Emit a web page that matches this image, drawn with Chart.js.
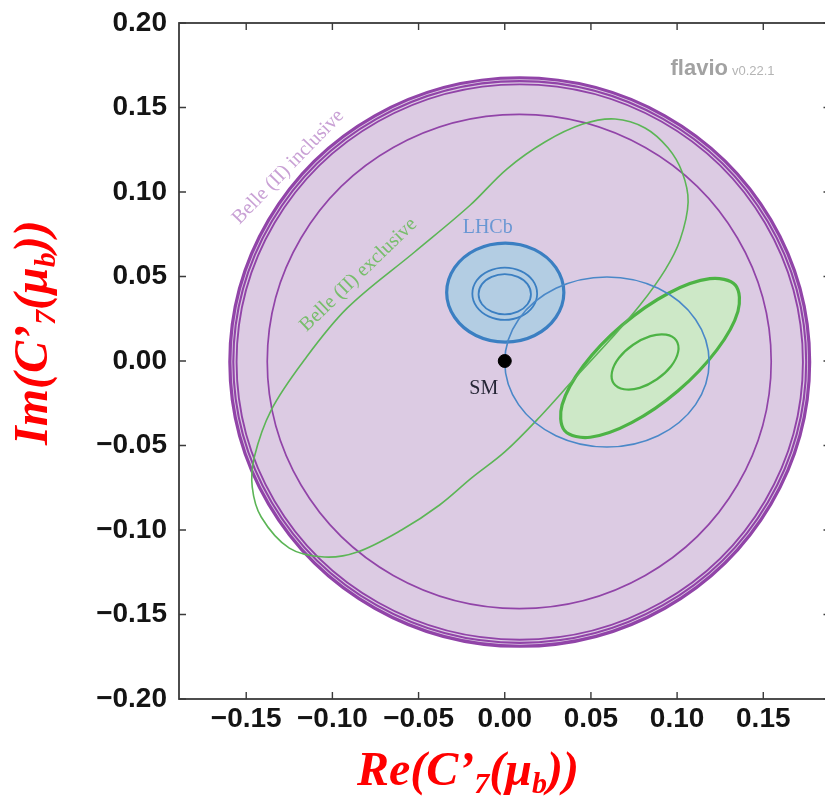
<!DOCTYPE html>
<html>
<head>
<meta charset="utf-8">
<script src="https://cdn.jsdelivr.net/npm/chart.js@4/dist/chart.umd.min.js"></script>
<style>
  html, body { margin: 0; padding: 0; background: #ffffff; overflow: hidden; }
  #wrap { position: absolute; left: 0; top: 0; width: 840px; height: 797px; }
</style>
</head>
<body>
<div id="wrap"><canvas id="c" width="840" height="797"></canvas></div>
<script>
// ---- axis ticks ----
const xTickValues = [-0.15, -0.10, -0.05, 0.00, 0.05, 0.10, 0.15];
const xTickLabels = ['−0.15', '−0.10', '−0.05', '0.00', '0.05', '0.10', '0.15'];
const yTickValues = [-0.20, -0.15, -0.10, -0.05, 0.00, 0.05, 0.10, 0.15, 0.20];
const yTickLabels = ['−0.20', '−0.15', '−0.10', '−0.05', '0.00', '0.05', '0.10', '0.15', '0.20'];

// ---- Belle (II) inclusive: outer 2σ boundary (three close rings) and inner ring ----
const inclOuterARe = [0.1769, 0.1544, 0.0928, 0.0087, -0.0754, -0.1370, -0.1595, -0.1370, -0.0754, 0.0087, 0.0928, 0.1544];
const inclOuterAIm = [-0.0006, 0.0835, 0.1451, 0.1676, 0.1451, 0.0835, -0.0006, -0.0847, -0.1463, -0.1688, -0.1463, -0.0847];
const inclOuterBRe = [0.1749, 0.1526, 0.0918, 0.0087, -0.0744, -0.1352, -0.1575, -0.1352, -0.0744, 0.0087, 0.0918, 0.1526];
const inclOuterBIm = [-0.0006, 0.0825, 0.1433, 0.1656, 0.1433, 0.0825, -0.0006, -0.0837, -0.1445, -0.1668, -0.1445, -0.0837];
const inclOuterCRe = [0.1730, 0.1510, 0.0909, 0.0087, -0.0735, -0.1336, -0.1556, -0.1336, -0.0735, 0.0087, 0.0909, 0.1510];
const inclOuterCIm = [-0.0006, 0.0816, 0.1417, 0.1637, 0.1417, 0.0816, -0.0006, -0.0828, -0.1429, -0.1649, -0.1429, -0.0828];
const inclInnerRe = [0.1546, 0.1350, 0.0815, 0.0084, -0.0647, -0.1182, -0.1378, -0.1182, -0.0647, 0.0084, 0.0815, 0.1350];
const inclInnerIm = [-0.0003, 0.0728, 0.1263, 0.1459, 0.1263, 0.0728, -0.0003, -0.0734, -0.1269, -0.1465, -0.1269, -0.0734];

// ---- Belle (II) exclusive ----
const exclRe = [0.0640, 0.0814, 0.0948, 0.1029, 0.1064, 0.1017, 0.0930, 0.0785, 0.0610, 0.0407, 0.0203, 0.0000, -0.0192, -0.0378, -0.0599, -0.0855, -0.1047, -0.1250, -0.1413, -0.1465, -0.1453, -0.1355, -0.1163, -0.0913, -0.0523, -0.0203, 0.0012, 0.0233, 0.0453];
const exclIm = [0.1432, 0.1379, 0.1260, 0.1118, 0.0941, 0.0716, 0.0538, 0.0331, 0.0124, -0.0101, -0.0331, -0.0538, -0.0692, -0.0852, -0.1000, -0.1130, -0.1160, -0.1107, -0.0923, -0.0746, -0.0568, -0.0290, 0.0006, 0.0314, 0.0645, 0.0920, 0.1136, 0.1296, 0.1402];

// ---- LHCb ----
const lhcbFillRe = [0.0343, 0.0297, 0.0173, 0.0003, -0.0167, -0.0291, -0.0337, -0.0291, -0.0167, 0.0003, 0.0173, 0.0297];
const lhcbFillIm = [0.0405, 0.0552, 0.0659, 0.0698, 0.0659, 0.0552, 0.0405, 0.0259, 0.0151, 0.0112, 0.0151, 0.0259];
const lhcbRingARe = [0.0188, 0.0163, 0.0094, 0.0000, -0.0094, -0.0163, -0.0188, -0.0163, -0.0094, 0.0000, 0.0094, 0.0163];
const lhcbRingAIm = [0.0398, 0.0476, 0.0532, 0.0553, 0.0532, 0.0476, 0.0398, 0.0321, 0.0264, 0.0243, 0.0264, 0.0321];
const lhcbRingBRe = [0.0152, 0.0132, 0.0076, 0.0000, -0.0076, -0.0132, -0.0152, -0.0132, -0.0076, 0.0000, 0.0076, 0.0132];
const lhcbRingBIm = [0.0395, 0.0455, 0.0498, 0.0514, 0.0498, 0.0455, 0.0395, 0.0336, 0.0292, 0.0276, 0.0292, 0.0336];
const lhcbWideRe = [0.1186, 0.1107, 0.0890, 0.0593, 0.0297, 0.0080, 0.0000, 0.0080, 0.0297, 0.0593, 0.0890, 0.1107];
const lhcbWideIm = [-0.0006, 0.0246, 0.0430, 0.0497, 0.0430, 0.0246, -0.0006, -0.0258, -0.0442, -0.0509, -0.0442, -0.0258];

// ---- combined fit ----
const combFillRe = [0.1338, 0.1353, 0.1231, 0.1006, 0.0736, 0.0496, 0.0348, 0.0333, 0.0455, 0.0680, 0.0950, 0.1190];
const combFillIm = [0.0449, 0.0294, 0.0066, -0.0176, -0.0365, -0.0451, -0.0413, -0.0259, -0.0030, 0.0211, 0.0401, 0.0487];
const combInnerRe = [0.0995, 0.1006, 0.0965, 0.0883, 0.0783, 0.0692, 0.0633, 0.0622, 0.0663, 0.0745, 0.0845, 0.0936];
const combInnerIm = [0.0122, 0.0054, -0.0031, -0.0108, -0.0159, -0.0167, -0.0134, -0.0066, 0.0019, 0.0096, 0.0147, 0.0156];

// ---- Standard Model point ----
const smRe = [0.0];
const smIm = [0.0];

// ---- region labels ----
const regionLabels = ['Belle (II) inclusive', 'Belle (II) exclusive', 'LHCb', 'SM'];
const regionLabelRe = [-0.1256, -0.0849, -0.0099, -0.0122];
const regionLabelIm = [0.1148, 0.0509, 0.0787, -0.0166];

// label styling (kept apart from the values above)
const regionLabelStyle = [
  { angle: -46, color: '#c9a1d5' },
  { angle: -44, color: '#78bd6c' },
  { angle: 0, color: '#6a97d3' },
  { angle: 0, color: '#262636' }
];

const TRANSPARENT = 'rgba(0,0,0,0)';

// Closed contour: the point list is wrapped by one point on each side so the
// spline has proper tangents all the way round; the two wrap segments are hidden.
function closedContour(re, im, style) {
  const pts = re.map((x, i) => ({ x: x, y: im[i] }));
  const n = pts.length;
  const data = [pts[n - 1]].concat(pts, [pts[0], pts[1]]);
  const last = data.length - 1;
  return Object.assign({
    data: data,
    showLine: true,
    pointRadius: 0,
    pointHoverRadius: 0,
    tension: 0.35,
    fill: false,
    segment: {
      borderColor: c => (c.p0DataIndex === 0 || c.p1DataIndex === last) ? TRANSPARENT : undefined
    }
  }, style);
}

const PURPLE = '#9144a8';
const PURPLE_FILL = '#dccbe3';
const GREEN = '#4db345';
const GREEN_THIN = '#5cb556';
const GREEN_FILL = '#cde8c7';
const BLUE = '#3b7fc2';
const BLUE_THIN = '#4a88c8';
const BLUE_FILL = '#b3cde3';

const datasets = [
  {
    data: smRe.map((x, i) => ({ x: x, y: smIm[i] })),
    pointRadius: 6.5, pointHoverRadius: 6.5,
    pointBackgroundColor: '#000000', pointBorderColor: '#000000',
    showLine: false, order: 0
  },
  closedContour(combInnerRe, combInnerIm, { borderColor: GREEN, borderWidth: 2.2, order: 1 }),
  closedContour(lhcbWideRe, lhcbWideIm, { borderColor: BLUE_THIN, borderWidth: 1.6, order: 2 }),
  closedContour(exclRe, exclIm, { borderColor: GREEN_THIN, borderWidth: 1.6, order: 3 }),
  closedContour(combFillRe, combFillIm, { borderColor: GREEN, borderWidth: 3.2, fill: 'shape', backgroundColor: GREEN_FILL, order: 4 }),
  closedContour(lhcbRingBRe, lhcbRingBIm, { borderColor: BLUE, borderWidth: 1.8, order: 5 }),
  closedContour(lhcbRingARe, lhcbRingAIm, { borderColor: BLUE, borderWidth: 1.8, order: 6 }),
  closedContour(lhcbFillRe, lhcbFillIm, { borderColor: BLUE, borderWidth: 3.2, fill: 'shape', backgroundColor: BLUE_FILL, order: 7 }),
  closedContour(inclInnerRe, inclInnerIm, { borderColor: PURPLE, borderWidth: 1.7, order: 8 }),
  closedContour(inclOuterCRe, inclOuterCIm, { borderColor: PURPLE, borderWidth: 1.9, order: 9 }),
  closedContour(inclOuterBRe, inclOuterBIm, { borderColor: PURPLE, borderWidth: 2.1, order: 10 }),
  closedContour(inclOuterARe, inclOuterAIm, { borderColor: PURPLE, borderWidth: 3.2, fill: 'shape', backgroundColor: PURPLE_FILL, order: 11 })
];

// rich text with subscripts, centred on (cx, baseline)
function drawRich(ctx, parts, cx, baseline, mainFont, subFont, subDrop) {
  let w = 0;
  parts.forEach(p => { ctx.font = p.sub ? subFont : mainFont; w += ctx.measureText(p.t).width; });
  let x = cx - w / 2;
  ctx.textAlign = 'left';
  ctx.textBaseline = 'alphabetic';
  parts.forEach(p => {
    ctx.font = p.sub ? subFont : mainFont;
    ctx.fillText(p.t, x, baseline + (p.sub ? subDrop : 0));
    x += ctx.measureText(p.t).width;
  });
}

const xTitleParts = [{ t: 'Re(C’' }, { t: '7', sub: true }, { t: '(μ' }, { t: 'b', sub: true }, { t: '))' }];
const yTitleParts = [{ t: 'Im(C’' }, { t: '7', sub: true }, { t: '(μ' }, { t: 'b', sub: true }, { t: '))' }];

const decor = {
  id: 'decor',
  afterDatasetsDraw(chart) {
    const { ctx, chartArea: a, scales: { x, y } } = chart;
    ctx.save();

    // region labels
    regionLabels.forEach((txt, i) => {
      const st = regionLabelStyle[i];
      ctx.save();
      ctx.translate(x.getPixelForValue(regionLabelRe[i]), y.getPixelForValue(regionLabelIm[i]));
      ctx.rotate(st.angle * Math.PI / 180);
      ctx.font = '20px "Liberation Serif"';
      ctx.fillStyle = st.color;
      ctx.textAlign = 'center';
      ctx.textBaseline = 'middle';
      ctx.fillText(txt, 0, 0);
      ctx.restore();
    });

    // flavio watermark
    ctx.textAlign = 'left';
    ctx.textBaseline = 'alphabetic';
    ctx.font = 'bold 22px "Liberation Sans"';
    ctx.fillStyle = '#a2a2a2';
    ctx.fillText('flavio', a.right - 160, 75);
    const fw = ctx.measureText('flavio').width;
    ctx.font = '13px "Liberation Sans"';
    ctx.fillStyle = '#b4b4b4';
    ctx.fillText('v0.22.1', a.right - 160 + fw + 4, 75);

    // frame and inward ticks on all four sides
    ctx.strokeStyle = '#3a3a3a';
    ctx.lineWidth = 1.8;
    ctx.strokeRect(a.left, a.top, a.right - a.left, a.bottom - a.top);
    ctx.lineWidth = 1.4;
    ctx.beginPath();
    xTickValues.forEach(v => {
      const px = x.getPixelForValue(v);
      ctx.moveTo(px, a.bottom); ctx.lineTo(px, a.bottom - 7);
      ctx.moveTo(px, a.top); ctx.lineTo(px, a.top + 7);
    });
    yTickValues.forEach(v => {
      const py = y.getPixelForValue(v);
      ctx.moveTo(a.left, py); ctx.lineTo(a.left + 7, py);
      ctx.moveTo(a.right, py); ctx.lineTo(a.right - 7, py);
    });
    ctx.stroke();
    ctx.restore();
  },
  afterDraw(chart) {
    const { ctx, chartArea: a } = chart;
    ctx.save();
    ctx.fillStyle = '#ff0000';
    const mainFont = 'italic bold 48px "Liberation Serif"';
    const subFont = 'italic bold 30px "Liberation Serif"';
    drawRich(ctx, xTitleParts, a.left + 0.4436 * (a.right - a.left), a.bottom + 86, mainFont, subFont, 8);
    ctx.translate(47, a.top + 0.458 * (a.bottom - a.top));
    ctx.rotate(-Math.PI / 2);
    drawRich(ctx, yTitleParts, 0, 0, mainFont, subFont, 8);
    ctx.restore();
  }
};

const tickFont = { family: 'Liberation Sans', size: 28, weight: 'bold' };

new Chart(document.getElementById('c'), {
  type: 'scatter',
  data: { datasets: datasets },
  options: {
    responsive: false,
    animation: false,
    events: [],
    layout: { padding: { left: 0, right: 9.5, top: 23, bottom: 0 } },
    plugins: { legend: { display: false }, tooltip: { enabled: false } },
    scales: {
      x: {
        type: 'linear', min: -0.189, max: 0.189,
        afterBuildTicks: s => { s.ticks = xTickValues.map(v => ({ value: v })); },
        afterFit: s => { s.height = 98; s.paddingLeft = 0; s.paddingRight = 0; },
        grid: { display: false, drawTicks: false },
        border: { display: false },
        ticks: {
          autoSkip: false, maxRotation: 0, minRotation: 0, padding: 3,
          color: '#141414', font: tickFont,
          callback: (v, i) => xTickLabels[i]
        }
      },
      y: {
        type: 'linear', min: -0.2, max: 0.2,
        afterBuildTicks: s => { s.ticks = yTickValues.map(v => ({ value: v })); },
        afterFit: s => { s.width = 179; s.paddingTop = 0; s.paddingBottom = 0; },
        grid: { display: false, drawTicks: false },
        border: { display: false },
        ticks: {
          autoSkip: false, padding: 12,
          color: '#141414', font: tickFont,
          callback: (v, i) => yTickLabels[i]
        }
      }
    }
  },
  plugins: [decor]
});
</script>
</body>
</html>
